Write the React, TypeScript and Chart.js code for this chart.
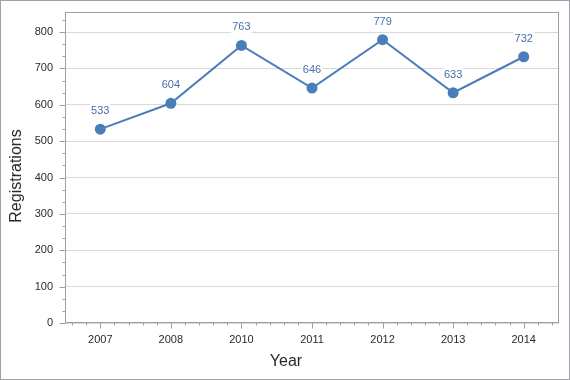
import React, { useEffect, useRef } from "react";
import { Chart, registerables } from "chart.js";

Chart.register(...registerables);

const years = ["2007", "2008", "2010", "2011", "2012", "2013", "2014"];
const registrations = [533, 604, 763, 646, 779, 633, 732];
const yMin = 0;
const yMax = 855;
const yStep = 100;
const yMinorStep = 100 / 3;
const yTitle = "Registrations";
const xTitle = "Year";

const LINE = "#4a7ebb";
const LABEL = "#4a6fae";
const AXIS = "#a0a0a0";
const GRID = "#d9d9d9";
const TEXT = "#2a2a2a";
const FONT = "Liberation Sans";

const decor = {
  id: "decor",
  beforeDatasetsDraw(chart: any) {
    const ctx = chart.ctx;
    const a = chart.chartArea;
    const xs = chart.scales.x;
    const ys = chart.scales.y;
    ctx.save();
    ctx.strokeStyle = AXIS;
    ctx.lineWidth = 1;
    ctx.strokeRect(Math.round(a.left) + 0.5, Math.round(a.top) + 0.5, Math.round(a.right - a.left) - 1, Math.round(a.bottom - a.top) - 1);
    const L = Math.round(a.left) + 0.5;
    for (let k = 0; yMin + k * yMinorStep <= yMax + 0.01; k++) {
      const v = yMin + k * yMinorStep;
      const y = Math.round(ys.getPixelForValue(v)) + 0.5;
      const major = k % 3 === 0;
      ctx.beginPath();
      ctx.moveTo(L - (major ? 6 : 3), y);
      ctx.lineTo(L, y);
      ctx.stroke();
    }
    const B = Math.round(a.bottom) - 0.5;
    const c0 = xs.getPixelForValue(0);
    const step = (xs.getPixelForValue(1) - c0) / 5;
    for (let m = -10; m < years.length * 5 + 10; m++) {
      const x = c0 + m * step;
      if (x <= a.left + 1 || x >= a.right - 1) continue;
      const major = m % 5 === 0;
      const px = Math.round(x) + 0.5;
      ctx.beginPath();
      ctx.moveTo(px, B);
      ctx.lineTo(px, B + (major ? 6 : 3));
      ctx.stroke();
    }
    ctx.restore();
  },
  afterDatasetsDraw(chart: any) {
    const ctx = chart.ctx;
    const meta = chart.getDatasetMeta(0);
    ctx.save();
    ctx.font = `11px "${FONT}"`;
    ctx.textAlign = "center";
    ctx.textBaseline = "middle";
    meta.data.forEach((pt: any, i: number) => {
      const t = String(registrations[i]);
      const w = ctx.measureText(t).width;
      const cy = pt.y - 18;
      ctx.fillStyle = "#ffffff";
      ctx.fillRect(pt.x - w / 2 - 1, cy - 8, w + 2, 14);
      ctx.fillStyle = LABEL;
      ctx.fillText(t, pt.x, cy);
    });
    ctx.restore();
  },
  afterDraw(chart: any) {
    const ctx = chart.ctx;
    ctx.save();
    ctx.strokeStyle = "#a0a0a8";
    ctx.lineWidth = 1;
    ctx.strokeRect(0.5, 0.5, chart.width - 1, chart.height - 1);
    ctx.fillStyle = TEXT;
    ctx.font = `16px "${FONT}"`;
    ctx.textAlign = "center";
    ctx.textBaseline = "middle";
    ctx.fillText(xTitle, 286, 362);
    ctx.translate(17, 176);
    ctx.rotate(-Math.PI / 2);
    ctx.fillText(yTitle, 0, 0);
    ctx.restore();
  },
};

export default function App() {
  const ref = useRef<HTMLCanvasElement>(null);
  useEffect(() => {
    if (!ref.current) return;
    const chart = new Chart(ref.current, {
      type: "line",
      data: {
        labels: years,
        datasets: [
          {
            data: registrations,
            borderColor: LINE,
            backgroundColor: LINE,
            borderWidth: 2,
            pointRadius: 5.5,
            pointBorderWidth: 0,
            pointBackgroundColor: LINE,
            tension: 0,
            clip: false as any,
          },
        ],
      },
      options: {
        responsive: false,
        animation: false,
        layout: { padding: { left: 0, top: 12, right: 11, bottom: 0 } },
        plugins: { legend: { display: false }, tooltip: { enabled: false } },
        scales: {
          x: {
            type: "category",
            offset: true,
            grid: { display: false, drawTicks: false },
            border: { display: false },
            ticks: { padding: 10, color: TEXT, font: { family: FONT, size: 11 }, maxRotation: 0 },
            afterFit: (s: any) => {
              s.height = 57;
              s.paddingLeft = 0;
              s.paddingRight = 0;
            },
          },
          y: {
            min: yMin,
            max: yMax,
            grid: { color: GRID, drawTicks: false },
            border: { display: false },
            ticks: { stepSize: yStep, padding: 12, color: TEXT, font: { family: FONT, size: 11 } },
            afterBuildTicks: (s: any) => {
              s.ticks = s.ticks.filter((t: any) => t.value % yStep === 0);
            },
            afterFit: (s: any) => {
              s.width = 65;
              s.paddingTop = 0;
              s.paddingBottom = 0;
            },
          },
        },
      },
      plugins: [decor],
    });
    return () => chart.destroy();
  }, []);
  return (
    <div style={{ position: "fixed", left: 0, top: 0, width: 570, height: 380, background: "#fff" }}>
      <canvas ref={ref} width={570} height={380} style={{ display: "block" }} />
    </div>
  );
}
